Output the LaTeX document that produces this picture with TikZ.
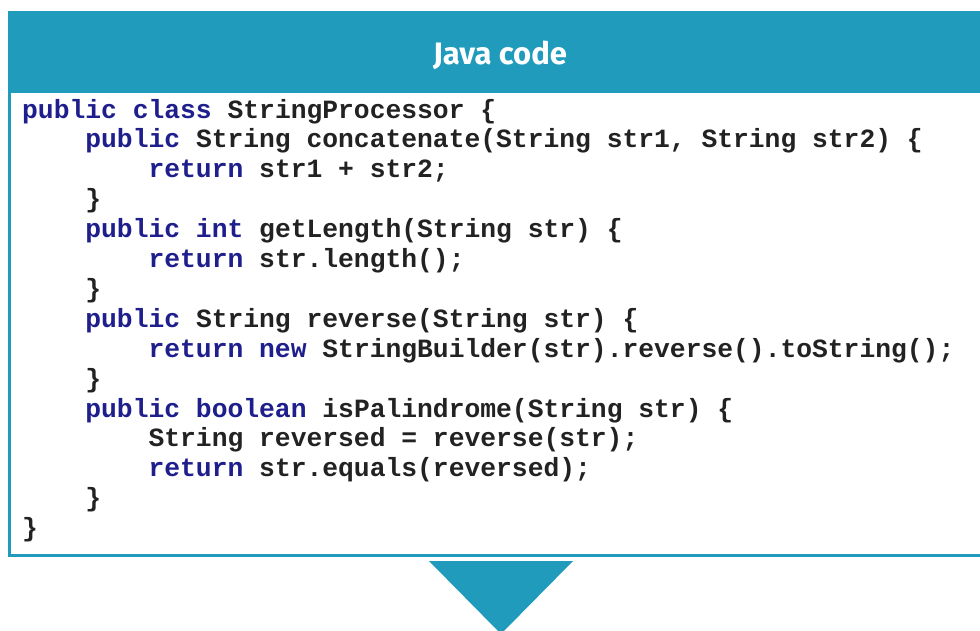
\documentclass[tikz,border=0pt]{standalone}
\usepackage{fontspec}
\newfontfamily\codefont{Liberation Mono}[BoldFont={* Bold}]
\newfontfamily\titlefont{Fira Sans}
\definecolor{teal1}{HTML}{209BBC}
\definecolor{kwblue}{HTML}{1E1E8C}
\definecolor{codetxt}{HTML}{222222}
\newcommand{\kw}[1]{\textcolor{kwblue}{#1}}
\tikzset{
  codeline/.style={anchor=base west, inner sep=0pt, text=codetxt,
    font=\codefont\bfseries\fontsize{26.33}{30}\selectfont},
  titletext/.style={anchor=base, inner sep=0pt, text=white,
    font=\titlefont\bfseries\fontsize{31}{36}\selectfont},
}
\begin{document}
\begin{tikzpicture}[x=1pt,y=-1pt]
\clip (0,0) rectangle (980,630);
\fill[white] (0,0) rectangle (980,630);
% header
\fill[teal1] (8,11) rectangle (990,93);
% box border
\draw[teal1, line width=3pt] (9.5,93) -- (9.5,555.5) -- (990,555.5);
% arrow triangle
\fill[teal1] (429,561) -- (573,561) -- (501,634) -- cycle;
\node[titletext] (title) at (500,64) {Java code};
% code lines
\def\xa{22}\def\xb{85.2}\def\xc{148.4}
\node[codeline] (l1) at (\xa,118) {\kw{public class} StringProcessor \{};
\node[codeline] (l2) at (\xb,147.9) {\kw{public} String concatenate(String str1, String str2) \{};
\node[codeline] (l3) at (\xc,177.8) {\kw{return} str1 + str2;};
\node[codeline] (l4) at (\xb,207.7) {\}};
\node[codeline] (l5) at (\xb,237.6) {\kw{public int} getLength(String str) \{};
\node[codeline] (l6) at (\xc,267.5) {\kw{return} str.length();};
\node[codeline] (l7) at (\xb,297.4) {\}};
\node[codeline] (l8) at (\xb,327.3) {\kw{public} String reverse(String str) \{};
\node[codeline] (l9) at (\xc,357.2) {\kw{return new} StringBuilder(str).reverse().toString();};
\node[codeline] (l10) at (\xb,387.1) {\}};
\node[codeline] (l11) at (\xb,417) {\kw{public boolean} isPalindrome(String str) \{};
\node[codeline] (l12) at (\xc,446.9) {String reversed = reverse(str);};
\node[codeline] (l13) at (\xc,476.8) {\kw{return} str.equals(reversed);};
\node[codeline] (l14) at (\xb,506.7) {\}};
\node[codeline] (l15) at (\xa,536.6) {\}};
\end{tikzpicture}
\end{document}
